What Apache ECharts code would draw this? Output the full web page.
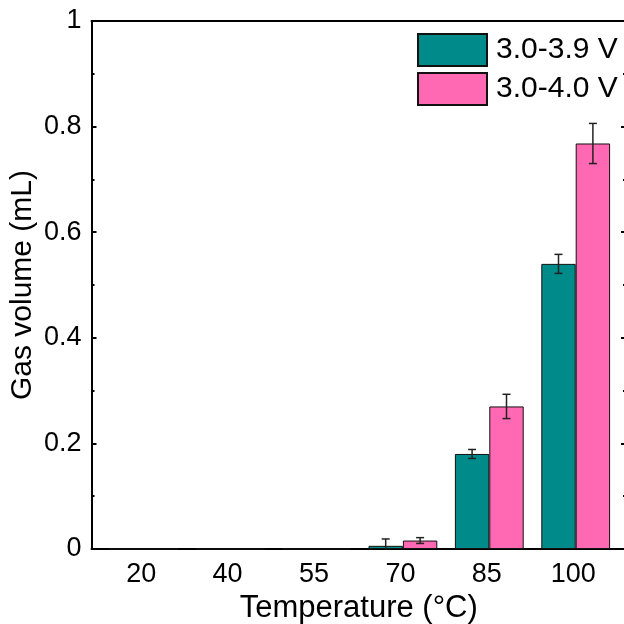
<!DOCTYPE html>
<html><head><meta charset="utf-8">
<script src="https://cdn.jsdelivr.net/npm/echarts@6/dist/echarts.min.js"></script>
<style>html,body{margin:0;padding:0;background:#fff}#c{width:624px;height:624px}</style>
</head><body><div id="c"></div>
<script>
const categories = ['20', '40', '55', '70', '85', '100'];
const seriesNames = ['3.0-3.9 V', '3.0-4.0 V'];
const values39 = [0, 0, 0, 0.006, 0.18, 0.54];
const values40 = [0, 0, 0, 0.016, 0.27, 0.768];
const errors39 = [0, 0, 0, 0.013, 0.0085, 0.018];
const errors40 = [0, 0, 0, 0.0055, 0.023, 0.038];

const FONT = 'Liberation Sans, Arial, sans-serif';
const BAR_W = 34.4;
const colors = ['#008B8B', '#FF69B4'];

function errSeries(vals, errs, sign) {
  const data = [];
  vals.forEach((v, i) => { if (errs[i] > 0) data.push([i, v, errs[i]]); });
  return {
    type: 'custom', xAxisIndex: 2, yAxisIndex: 2, z: 5, silent: true,
    data: data,
    renderItem: function (params, api) {
      const i = api.value(0), v = api.value(1), e = api.value(2);
      const lo = Math.max(0, v - e);
      const t = api.coord([i, v + e]);
      const b = api.coord([i, lo]);
      const x = t[0] + sign * BAR_W / 2;
      const st = { stroke: '#222', lineWidth: 1.5 };
      const ch = [
        { type: 'line', shape: { x1: x, y1: t[1], x2: x, y2: b[1] }, style: st },
        { type: 'line', shape: { x1: x - 4, y1: t[1], x2: x + 4, y2: t[1] }, style: st }
      ];
      if (v - e >= 0) ch.push({ type: 'line', shape: { x1: x - 4, y1: b[1], x2: x + 4, y2: b[1] }, style: st });
      return { type: 'group', children: ch };
    }
  };
}

const lineStyle = { color: '#000', width: 2 };
const chart = echarts.init(document.getElementById('c'), null, { renderer: 'canvas' });
chart.setOption({
  animation: false,
  textStyle: { fontFamily: FONT, color: '#000' },
  legend: {
    orient: 'vertical', left: 417, top: 33, padding: 0, itemWidth: 69, itemHeight: 32, itemGap: 5,
    icon: 'rect',
    textStyle: { fontSize: 30, color: '#000', fontFamily: FONT, padding: [0, 0, 0, 4] },
    data: seriesNames
  },
  grid: [
    { left: 91.5, right: -2, top: 21, bottom: 75, outerBoundsMode: 'none', containLabel: false },
    { left: 100.5, right: 5.1, top: 21, bottom: 75, outerBoundsMode: 'none', containLabel: false }
  ],
  xAxis: [
    { type: 'value', gridIndex: 0, min: 0, max: 1, position: 'bottom',
      axisLine: { show: true, onZero: false, lineStyle: lineStyle },
      axisTick: { show: false }, axisLabel: { show: false }, splitLine: { show: false },
      name: 'Temperature (°C)', nameLocation: 'middle', nameGap: 44, nameMoveOverlap: false,
      nameTextStyle: { fontSize: 31, color: '#000', fontFamily: FONT } },
    { type: 'value', gridIndex: 0, min: 0, max: 1, position: 'top',
      axisLine: { show: true, onZero: false, lineStyle: lineStyle },
      axisTick: { show: false }, axisLabel: { show: false }, splitLine: { show: false } },
    { type: 'category', gridIndex: 1, data: categories, position: 'bottom',
      axisLine: { show: false, onZero: false }, axisTick: { show: false }, splitLine: { show: false },
      axisLabel: { fontSize: 27, color: '#000', fontFamily: FONT, margin: 12, padding: [0, 5, 0, 0] } }
  ],
  yAxis: [
    { type: 'value', gridIndex: 0, min: 0, max: 1, interval: 0.2, position: 'left',
      axisLine: { show: true, onZero: false, lineStyle: lineStyle },
      axisTick: { show: true, inside: true, length: 5, lineStyle: lineStyle },
      minorTick: { show: true, splitNumber: 2, length: 3, lineStyle: lineStyle },
      axisLabel: { fontSize: 27, color: '#000', fontFamily: FONT, margin: 10,
        formatter: v => String(+v.toFixed(1)) },
      splitLine: { show: false },
      name: 'Gas volume (mL)', nameLocation: 'middle', nameGap: 54, nameMoveOverlap: false,
      nameTextStyle: { fontSize: 30, color: '#000', fontFamily: FONT } },
    { type: 'value', gridIndex: 0, min: 0, max: 1, interval: 0.2, position: 'right',
      axisLine: { show: true, onZero: false, lineStyle: lineStyle },
      axisTick: { show: true, inside: true, length: 5, lineStyle: lineStyle },
      minorTick: { show: true, splitNumber: 2, length: 3, lineStyle: lineStyle },
      axisLabel: { show: false }, splitLine: { show: false } },
    { type: 'value', gridIndex: 1, min: 0, max: 1, show: false, splitLine: { show: false } }
  ],
  series: [
    { name: seriesNames[0], type: 'bar', xAxisIndex: 2, yAxisIndex: 2, data: values39,
      barWidth: BAR_W, barGap: '0%',
      itemStyle: { color: colors[0], borderColor: '#111', borderWidth: 1 } },
    { name: seriesNames[1], type: 'bar', xAxisIndex: 2, yAxisIndex: 2, data: values40,
      barWidth: BAR_W, barGap: '0%',
      itemStyle: { color: colors[1], borderColor: '#111', borderWidth: 1 } },
    errSeries(values39, errors39, -1),
    errSeries(values40, errors40, 1)
  ]
});
</script></body></html>
